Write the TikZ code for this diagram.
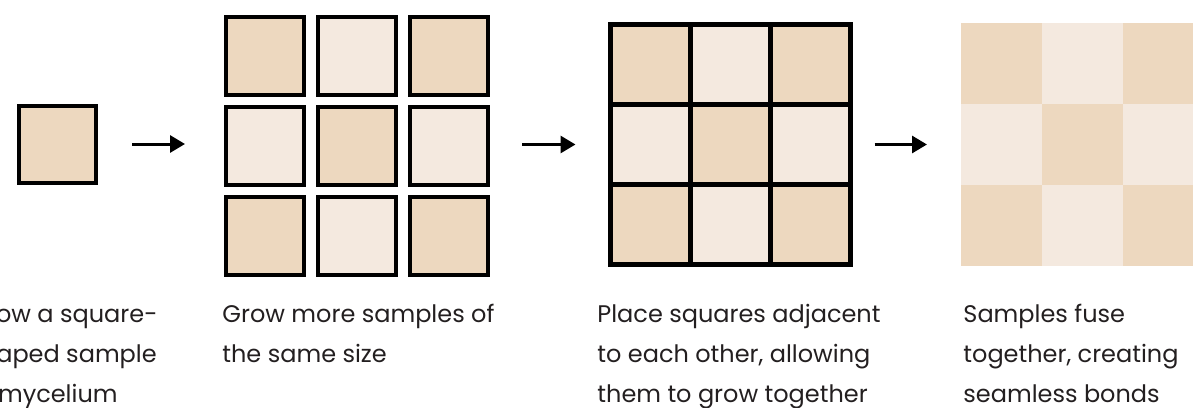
\documentclass[tikz,border=0pt]{standalone}
\usepackage{fontspec}
\setmainfont{Poppins}
\usetikzlibrary{positioning,arrows.meta}
\definecolor{tan}{HTML}{EDD8BF}
\definecolor{cream}{HTML}{F4E9DF}
\definecolor{ink}{HTML}{231F20}

\begin{document}
\begin{tikzpicture}[x=0.5pt,y=-0.5pt,>={Triangle[length=7.5pt,width=8.5pt]},
  tile/.style={draw=black,line width=2pt,minimum size=39pt,inner sep=0pt},
  joined/.style={draw=black,line width=2.5pt,minimum size=40pt,inner sep=0pt},
  fused/.style={minimum size=40.5pt,inner sep=0pt,outer sep=0pt},
  caption/.style={anchor=base west,align=left,inner sep=0pt,text=ink,font=\fontsize{12}{20}\selectfont}]
\useasboundingbox (0,0) rectangle (1193,407);
\clip (0,0) rectangle (1193,407);
% step 1: one sample
\node[tile,fill=tan,minimum size=38.5pt] (seed) at (57.5,144) {};
% step 2: nine separate samples
\foreach \r in {0,1,2}
  \foreach \c in {0,1,2} {
    \pgfmathtruncatemacro\k{mod(\r+\c,2)}
    \ifnum\k=0 \def\shade{tan}\else\def\shade{cream}\fi
    \node[tile,fill=\shade] (g2-\r-\c) at (265+92*\c,56+90*\r) {};
    \node[joined,fill=\shade] (g3-\r-\c) at (650+80*\c,64.5+80*\r) {};
    \node[fused,fill=\shade] (g4-\r-\c) at (1001.5+81*\c,63.5+81*\r) {};
  }
% arrows between the steps
\draw[->,line width=1.5pt,shorten <=17pt,shorten >=19.5pt] (seed.east) -- (seed.east -| g2-1-0.west);
\draw[->,line width=1.5pt,shorten <=16pt,shorten >=16pt] (g3-1-0.west -| g2-1-2.east) -- (g3-1-0.west);
\draw[->,line width=1.5pt,shorten <=11pt,shorten >=17pt] (g3-1-2.east) -- (g3-1-2.east -| g4-1-0.west);
% captions (base = last line)
\node[caption] (cap1) at (-32,402) {Grow a square-\\shaped sample\\of mycelium};
\node[caption] (cap2) at (222,362) {Grow more samples of\\the same size};
\node[caption] (cap3) at (597,402) {Place squares adjacent\\to each other, allowing\\them to grow together};
\node[caption] (cap4) at (963,402) {Samples fuse\\together, creating\\seamless bonds};
\end{tikzpicture}
\end{document}
